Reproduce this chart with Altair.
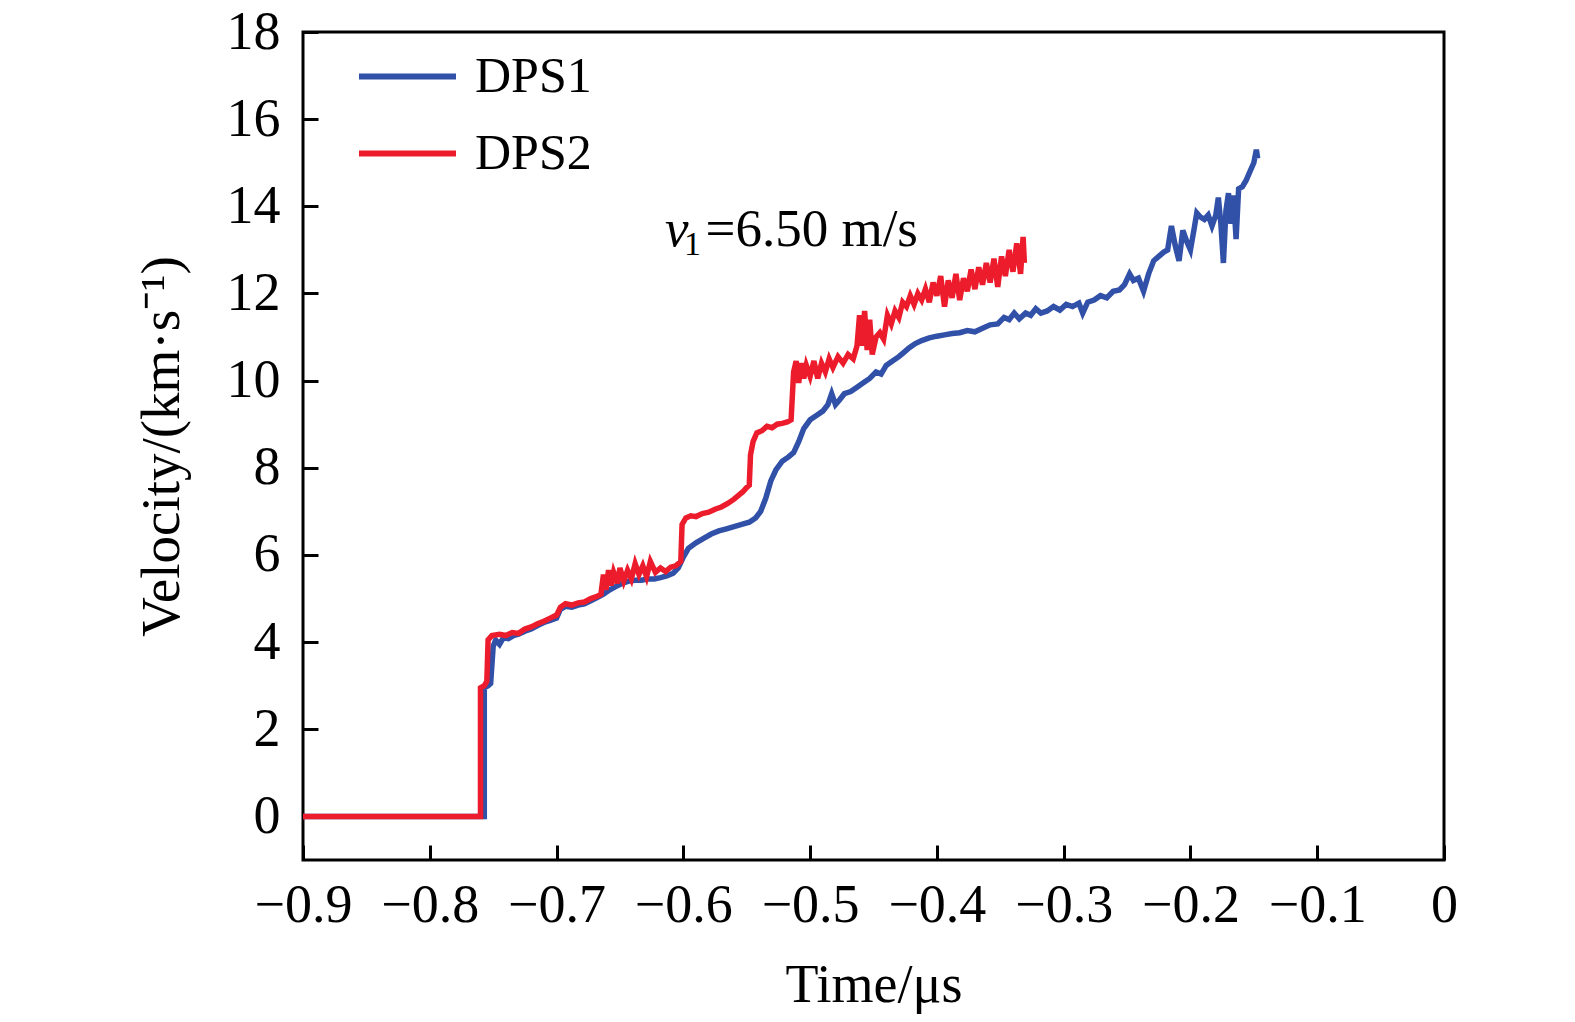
import altair as alt
import pandas as pd

# ---------------- data ----------------
dps1_t = [-0.900, -0.757, -0.757, -0.754, -0.752, -0.750, -0.748, -0.745, -0.742, -0.738,
          -0.734, -0.730, -0.725, -0.720, -0.715, -0.710, -0.705, -0.700, -0.697, -0.693,
          -0.688, -0.683, -0.678, -0.673, -0.668, -0.663, -0.658, -0.653, -0.648, -0.643,
          -0.638, -0.633, -0.628, -0.623, -0.618, -0.613, -0.608, -0.604, -0.600, -0.596,
          -0.590, -0.584, -0.578, -0.572, -0.566, -0.560, -0.554, -0.548, -0.543, -0.539,
          -0.535, -0.531, -0.527, -0.522, -0.517, -0.513, -0.509, -0.505, -0.500, -0.495,
          -0.490, -0.486, -0.483, -0.480, -0.477, -0.473, -0.468, -0.463, -0.458, -0.453,
          -0.448, -0.444, -0.440, -0.435, -0.430, -0.426, -0.422, -0.417, -0.412, -0.406,
          -0.400, -0.394, -0.388, -0.382, -0.376, -0.370, -0.364, -0.358, -0.352, -0.347,
          -0.343, -0.339, -0.335, -0.330, -0.326, -0.322, -0.318, -0.313, -0.308, -0.303,
          -0.298, -0.293, -0.288, -0.285, -0.281, -0.276, -0.271, -0.266, -0.261, -0.256,
          -0.252, -0.248, -0.245, -0.241, -0.237, -0.233, -0.229, -0.225, -0.221, -0.218,
          -0.215, -0.212, -0.209, -0.206, -0.203, -0.200, -0.197, -0.195, -0.192, -0.189,
          -0.186, -0.183, -0.180, -0.178, -0.176, -0.174, -0.172, -0.170, -0.168, -0.166,
          -0.164, -0.162, -0.159, -0.156, -0.153, -0.150, -0.148, -0.147]
dps1_v = [0.00, 0.00, 2.95, 3.00, 3.05, 3.90, 4.05, 3.95, 4.10, 4.08,
          4.15, 4.18, 4.25, 4.30, 4.38, 4.45, 4.50, 4.55, 4.75, 4.82,
          4.80, 4.85, 4.88, 4.95, 5.02, 5.10, 5.20, 5.28, 5.35, 5.40,
          5.42, 5.42, 5.45, 5.45, 5.48, 5.52, 5.58, 5.70, 5.95, 6.15,
          6.28, 6.38, 6.48, 6.55, 6.60, 6.65, 6.70, 6.75, 6.85, 7.00,
          7.30, 7.70, 7.95, 8.15, 8.25, 8.35, 8.60, 8.90, 9.10, 9.20,
          9.30, 9.45, 9.70, 9.45, 9.55, 9.70, 9.75, 9.85, 9.95, 10.05,
          10.20, 10.15, 10.35, 10.45, 10.55, 10.65, 10.75, 10.85, 10.92, 10.98,
          11.02, 11.05, 11.08, 11.10, 11.15, 11.12, 11.20, 11.28, 11.30, 11.45,
          11.40, 11.55, 11.42, 11.55, 11.50, 11.65, 11.55, 11.60, 11.70, 11.62,
          11.75, 11.70, 11.78, 11.55, 11.80, 11.85, 11.95, 11.90, 12.05, 12.08,
          12.20, 12.45, 12.30, 12.35, 12.05, 12.45, 12.75, 12.85, 12.95, 13.00,
          13.55, 13.10, 12.75, 13.45, 13.20, 13.00, 13.50, 13.85, 13.75, 13.70,
          13.80, 13.55, 13.80, 14.20, 13.60, 12.70, 13.90, 14.30, 13.60, 14.25,
          13.25, 14.40, 14.45, 14.60, 14.80, 15.00, 15.30, 15.10]

dps2_t = [-0.900, -0.760, -0.760, -0.757, -0.755, -0.754, -0.751, -0.745, -0.740, -0.735,
          -0.730, -0.725, -0.720, -0.715, -0.710, -0.705, -0.700, -0.697, -0.693, -0.688,
          -0.683, -0.678, -0.673, -0.668, -0.665, -0.663, -0.661, -0.659, -0.657, -0.655,
          -0.652, -0.650, -0.647, -0.644, -0.641, -0.638, -0.635, -0.632, -0.629, -0.626,
          -0.622, -0.618, -0.614, -0.610, -0.606, -0.602, -0.601, -0.598, -0.594, -0.590,
          -0.585, -0.580, -0.575, -0.570, -0.565, -0.560, -0.556, -0.553, -0.550, -0.548,
          -0.547, -0.545, -0.542, -0.538, -0.534, -0.530, -0.526, -0.522, -0.518, -0.515,
          -0.513, -0.511, -0.509, -0.507, -0.505, -0.503, -0.500, -0.497, -0.494, -0.491,
          -0.488, -0.485, -0.482, -0.478, -0.474, -0.470, -0.466, -0.463, -0.461, -0.459,
          -0.457, -0.455, -0.453, -0.451, -0.448, -0.445, -0.442, -0.439, -0.436, -0.433,
          -0.430, -0.427, -0.424, -0.421, -0.418, -0.415, -0.412, -0.409, -0.406, -0.403,
          -0.400, -0.397, -0.394, -0.391, -0.388, -0.385, -0.382, -0.379, -0.376, -0.373,
          -0.370, -0.367, -0.364, -0.361, -0.358, -0.355, -0.352, -0.349, -0.346, -0.343,
          -0.340, -0.337, -0.334, -0.332, -0.331]
dps2_v = [0.00, 0.00, 2.95, 3.00, 3.10, 4.05, 4.15, 4.18, 4.15, 4.22,
          4.20, 4.30, 4.35, 4.42, 4.48, 4.55, 4.62, 4.80, 4.88, 4.85,
          4.90, 4.92, 5.00, 5.05, 5.10, 5.55, 5.20, 5.65, 5.30, 5.60,
          5.35, 5.70, 5.40, 5.65, 5.45, 5.80, 5.55, 5.75, 5.50, 5.85,
          5.60, 5.70, 5.62, 5.72, 5.75, 5.85, 6.70, 6.85, 6.90, 6.88,
          6.95, 6.98, 7.05, 7.10, 7.18, 7.28, 7.38, 7.45, 7.55, 7.60,
          8.30, 8.60, 8.80, 8.85, 8.95, 8.92, 9.00, 9.02, 9.05, 9.10,
          10.20, 10.45, 9.95, 10.40, 10.05, 10.35, 10.10, 10.45, 10.05, 10.40,
          10.20, 10.50, 10.30, 10.55, 10.40, 10.60, 10.50, 10.80, 11.50, 10.80,
          11.60, 10.70, 11.40, 10.60, 11.00, 11.10, 10.95, 11.50, 11.30, 11.60,
          11.45, 11.80, 11.70, 11.95, 11.75, 12.00, 11.85, 12.10, 11.80, 12.25,
          11.95, 12.40, 11.70, 12.30, 11.90, 12.45, 11.85, 12.35, 12.05, 12.55,
          12.10, 12.60, 12.20, 12.70, 12.25, 12.80, 12.15, 12.85, 12.40, 13.00,
          12.50, 13.15, 12.45, 13.30, 12.70]

series_names = ["DPS1", "DPS2"]
series_colors = ["#3150A8", "#EC1C2C"]
x_ticks = [-0.9, -0.8, -0.7, -0.6, -0.5, -0.4, -0.3, -0.2, -0.1, 0.0]
y_ticks = [0, 2, 4, 6, 8, 10, 12, 14, 16, 18]
x_title = "Time/μs"
y_title = "Velocity/(km·s⁻¹)"
annot_parts = ["v", "1", "=6.50 m/s"]
annot_x = [-0.6145, -0.5995, -0.5825]
annot_y = [13.10, 12.88, 13.10]

# ---------------- build table ----------------
rows = []
for name, ts, vs in [("DPS1", dps1_t, dps1_v), ("DPS2", dps2_t, dps2_v)]:
    for i, (t, v) in enumerate(zip(ts, vs)):
        rows.append({"series": name, "t": t, "v": v, "i": i})
df = pd.DataFrame(rows)

FONT = "Liberation Serif"
W, H = 1141, 828

xscale = alt.Scale(domain=[-0.9, 0], nice=False, zero=False)
yscale = alt.Scale(domain=[-1, 18], nice=False, zero=False)

lines = alt.Chart(df).mark_line(strokeWidth=5.5).encode(
    x=alt.X("t:Q", scale=xscale, axis=alt.Axis(
        values=x_ticks, labelExpr="datum.value == 0 ? '0' : replace(format(datum.value, '.1f'), '-', '−')",
        title=x_title, ticks=False, tickSize=0, domain=False, grid=False,
        labelOverlap=False, labelFlush=False,
        labelFont=FONT, labelFontSize=54, labelColor="black", labelPadding=18,
        titleFont=FONT, titleFontSize=54, titleFontWeight="normal", titleColor="black", titlePadding=26)),
    y=alt.Y("v:Q", scale=yscale, axis=alt.Axis(
        values=y_ticks, format="d", title=y_title, ticks=False, tickSize=0, domain=False, grid=False,
        labelOverlap=False, labelFlush=False,
        labelFont=FONT, labelFontSize=54, labelColor="black", labelPadding=23,
        titleFont=FONT, titleFontSize=55, titleFontWeight="normal", titleColor="black", titlePadding=36)),
    color=alt.Color("series:N", scale=alt.Scale(domain=series_names, range=series_colors),
                    legend=alt.Legend(orient="none", legendX=53, legendY=-7, title=None,
                                      symbolType="stroke", symbolSize=9409, symbolStrokeWidth=6,
                                      labelFont=FONT, labelFontSize=50, labelColor="black",
                                      labelOffset=16, rowPadding=-21, padding=0)),
    order="i:Q",
)

tick_layer = alt.Chart(df).mark_line(strokeOpacity=0).encode(
    x=alt.X("t:Q", scale=xscale, axis=alt.Axis(
        orient="top", offset=-H, values=x_ticks, labels=False, domain=False, grid=False,
        ticks=True, tickSize=15, tickWidth=3, tickColor="black", title="")),
    y=alt.Y("v:Q", scale=yscale, axis=alt.Axis(
        orient="right", offset=-W, values=y_ticks, labels=False, domain=False, grid=False,
        ticks=True, tickSize=15, tickWidth=3, tickColor="black", title="")),
    detail="series:N",
    order="i:Q",
)

def annot(k, size, style):
    d = pd.DataFrame({"x": [annot_x[k]], "y": [annot_y[k]], "s": [annot_parts[k]]})
    return alt.Chart(d).mark_text(font=FONT, fontSize=size, fontStyle=style, align="left",
                                  baseline="alphabetic", color="black").encode(
        x=alt.X("x:Q", scale=xscale, axis=None),
        y=alt.Y("y:Q", scale=yscale, axis=None),
        text="s:N",
    )

chart = alt.layer(
    lines, tick_layer, annot(0, 53, "italic"), annot(1, 34, "normal"), annot(2, 53, "normal")
).resolve_axis(x="independent", y="independent").properties(
    width=W, height=H, autosize="none",
    padding={"left": 295, "top": 24, "right": 20, "bottom": 160},
    background="white",
).configure_view(stroke="black", strokeWidth=3)

chart.save("out.html", embed_options={"renderer": "svg", "actions": False})
